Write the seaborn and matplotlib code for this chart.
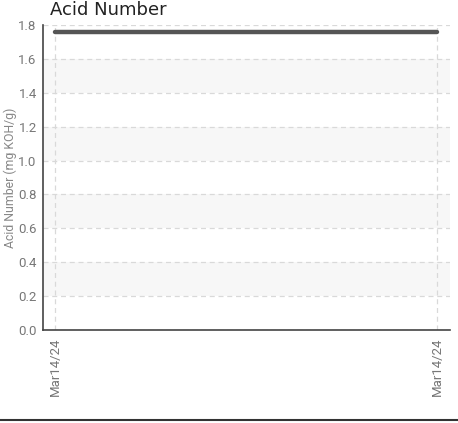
import matplotlib
matplotlib.use("Agg")
import matplotlib.pyplot as plt
import seaborn as sns
import pandas as pd
from matplotlib.lines import Line2D

# data
sample_idx = [0, 1]
sample_dates = ["Mar14/24", "Mar14/24"]
acid_number = [1.76, 1.76]
y_ticks = [0.0, 0.2, 0.4, 0.6, 0.8, 1.0, 1.2, 1.4, 1.6, 1.8]

df = pd.DataFrame({"idx": sample_idx, "value": acid_number})

sns.set_style("white")
plt.rcParams["font.family"] = ["Roboto", "DejaVu Sans"]

fig = plt.figure(figsize=(4.58, 4.23), dpi=100)
ax = fig.add_axes([43 / 458, 1 - 330 / 423, 407 / 458, 305 / 423])

# alternating bands
for lo in [0.2, 0.6, 1.0, 1.4]:
    ax.axhspan(lo, lo + 0.2, color="#f7f7f7", zorder=0, lw=0)

sns.lineplot(data=df, x="idx", y="value", ax=ax, color="#555555", lw=3.2, zorder=3)

ax.set_xlim(-12 / 382, 1 + 13 / 382)
ax.set_ylim(0, 1.8)
ax.set_yticks(y_ticks)
ax.set_yticklabels([f"{t:.1f}" for t in y_ticks])
ax.set_xticks(sample_idx)
ax.set_xticklabels(sample_dates, rotation=90)

ax.grid(True, color="#d9d9d9", ls=(0, (4, 3)), lw=0.9)
ax.set_axisbelow(True)

for s in ["top", "right"]:
    ax.spines[s].set_visible(False)
ax.spines["left"].set_color("#444444")
ax.spines["bottom"].set_color("#444444")
ax.spines["left"].set_linewidth(1.2)
ax.spines["bottom"].set_linewidth(1.2)

ax.tick_params(axis="both", direction="inout", length=5, width=1, color="#333333",
               labelcolor="#777777", labelsize=9.5)
ax.tick_params(axis="y", pad=2)
ax.tick_params(axis="x", pad=3)

ax.set_xlabel("")
ax.set_ylabel("Acid Number (mg KOH/g)", color="#888888", fontsize=8.8, labelpad=1)

# title sits tight at the top edge
fig.text(50 / 458, 1 - 1 / 423, "Acid Number", fontsize=13, color="#222222",
         family=["DejaVu Sans"], va="top")

fig.add_artist(Line2D([0, 1], [1 - 420 / 423] * 2, color="#333333", lw=1.5))

fig.savefig("out.png", dpi=100)
